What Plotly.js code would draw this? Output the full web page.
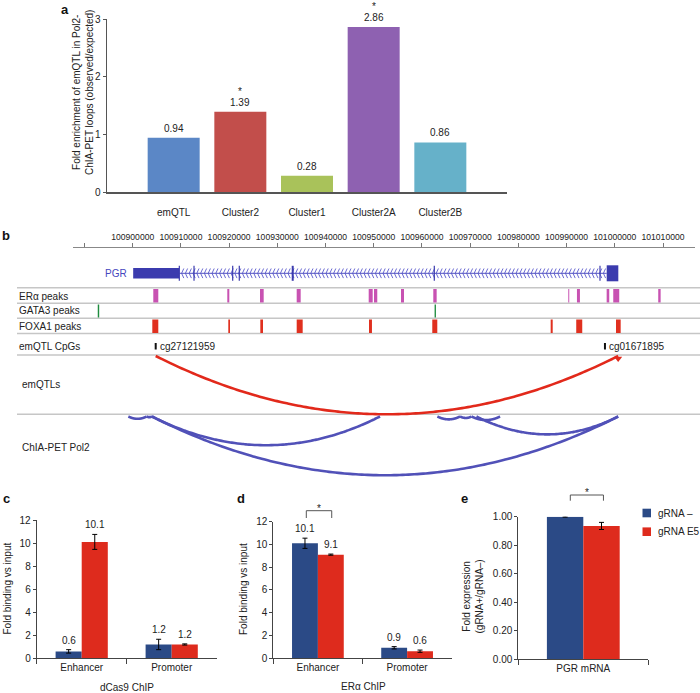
<!DOCTYPE html>
<html><head><meta charset="utf-8">
<script src="https://cdn.plot.ly/plotly-3.0.1.min.js"></script>
<style>html,body{margin:0;padding:0;background:#fff}#chart{width:700px;height:693px}</style>
</head><body><div id="chart"></div>
<script>
// ---------- Panel a ----------
const aCategories = ['emQTL', 'Cluster2', 'Cluster1', 'Cluster2A', 'Cluster2B'];
const aValues = [0.94, 1.39, 0.28, 2.86, 0.86];
const aSignificant = [false, true, false, true, false];
const aColors = ['#5B87C6', '#C24E4B', '#A9C25A', '#8E61B1', '#66B1C9'];
const aTicks = [0, 1, 2, 3];

// ---------- Panel b ----------
const genomeTicks = [100890000, 100900000, 100910000, 100920000, 100930000, 100940000, 100950000,
  100960000, 100970000, 100980000, 100990000, 101000000, 101010000];
const genomeTickText = ['', '100900000', '100910000', '100920000', '100930000', '100940000', '100950000',
  '100960000', '100970000', '100980000', '100990000', '101000000', '101010000'];
const geneName = 'PGR';
const geneUTR = [100900100, 100909670];
const geneIntron = [100909670, 100998320];
const geneLastExon = [100998320, 101000730];
const geneExonMarks = [100909670, 100912720, 100920740, 100922110, 100933190, 100962560, 100996930];
const eraPeaks = [[100904270, 100905310], [100919620, 100920040], [100926400, 100927170], [100934015, 100934845],
  [100948950, 100949780], [100950050, 100950730], [100955650, 100956270], [100962350, 100963050],
  [100990350, 100990555], [100992150, 100992770], [100998310, 100998850], [100999680, 101000920],
  [101009010, 101009510]];
const gata3Peaks = [[100892750, 100893050], [100962620, 100962900]];
const foxa1Peaks = [[100904065, 100905310], [100919830, 100920180], [100926470, 100927030], [100934015, 100935260],
  [100949010, 100949630], [100962140, 100963180], [100986700, 100987120], [100992000, 100993250],
  [101000245, 101001220]];
const cpgNames = ['cg27121959', 'cg01671895'];
const cpgPositions = [100904770, 100997960];
const emqtlLinks = [[100904770, 101000700]];
const chiaLinks = [[100899100, 100902900], [100902900, 100904000], [100904000, 100951300], [100904000, 101000700],
  [100963200, 100967900], [100967900, 100970300], [100970300, 100976200], [100971300, 101000700]];
const trackLabels = ['ERα peaks', 'GATA3 peaks', 'FOXA1 peaks', 'emQTL CpGs', 'emQTLs', 'ChIA-PET Pol2'];

// ---------- Panels c, d, e ----------
const chipCategories = ['Enhancer', 'Promoter'];
const cNeg = [0.6, 1.2], cNegErr = [0.15, 0.45];
const cE5 = [10.1, 1.2], cE5Err = [0.65, 0.05];
const dNeg = [10.1, 0.9], dNegErr = [0.45, 0.1];
const dE5 = [9.1, 0.6], dE5Err = [0.05, 0.1];
const eCategories = ['PGR mRNA'];
const eNeg = [1.00], eNegErr = [0.003];
const eE5 = [0.935], eE5Err = [0.025];
const seriesNames = ['gRNA –', 'gRNA E5'];
const chipTicks = [0, 2, 4, 6, 8, 10, 12];
const eTicks = [0, 0.2, 0.4, 0.6, 0.8, 1.0];

// ---------- layout helpers ----------
const W = 700, H = 693;
const px = x => x / W;
const py = y => 1 - y / H;
const FONT = 'Liberation Sans, Arial, Helvetica, sans-serif';
const TXT = '#222';
const BLUE = '#2B4A86', RED = '#DE2B1D';
const GENE = '#3B3BAE', GENE_LINE = '#5050C2', CHEV = '#6A6AD2';

const traces = [];
const shapes = [];
const annotations = [];
const ann = (o) => annotations.push(Object.assign({showarrow: false, xanchor: 'center', yanchor: 'middle',
  font: {family: FONT, size: 10, color: TXT}}, o));

// Panel a
traces.push({type: 'bar', x: aCategories, y: aValues, marker: {color: aColors}, width: 0.78,
  xaxis: 'x', yaxis: 'y', hoverinfo: 'skip'});
aValues.forEach((v, i) => {
  ann({xref: 'x', yref: 'y', x: i, y: v, yanchor: 'bottom', yshift: 2, text: v.toFixed(2)});
  if (aSignificant[i]) ann({xref: 'x', yref: 'y', x: i, y: v, yanchor: 'bottom', yshift: 13, text: '*'});
});

// Panel b geometry
const gRange = [100887616, 101016637];
const gDomain = [px(73), px(695)];
const bpPerPx = (gRange[1] - gRange[0]) / ((gDomain[1] - gDomain[0]) * W);
const rowY = {gene: 273.3, era: [289, 302.5], gata: [304.5, 317.5], foxa: [319.5, 333], cpg: [343, 349.5], cpgText: 346,
  emqtlBase: 356, chiaBase: 416.5};
const rect = (x0, x1, y0, y1, color) => shapes.push({type: 'rect', xref: 'x2', yref: 'y2', x0, x1, y0, y1,
  fillcolor: color, line: {width: 0}, layer: 'above'});
const line2 = (x0, x1, y0, y1, color, w) => shapes.push({type: 'line', xref: 'x2', yref: 'y2', x0, x1, y0, y1,
  line: {color, width: w}, layer: 'above'});

// separators
[287.7, 303.3, 318.3, 333.6, 355, 414.3].forEach(y => shapes.push({type: 'line', xref: 'paper', yref: 'paper',
  x0: px(17), x1: 1, y0: py(y), y1: py(y), line: {color: '#C6C6C6', width: 1.5}, layer: 'below'}));

// gene
line2(geneIntron[0], geneIntron[1], rowY.gene, rowY.gene, GENE_LINE, 1);
rect(geneUTR[0], geneUTR[1], rowY.gene - 5.3, rowY.gene + 5.3, GENE);
rect(geneLastExon[0], geneLastExon[1], rowY.gene - 8, rowY.gene + 8, GENE);
geneExonMarks.forEach((g, i) => line2(g, g, rowY.gene - 7.5, rowY.gene + 7.5, GENE, i === 4 ? 2 : 1.2));
{
  const step = 3.8 * bpPerPx, cw = 2.2 * bpPerPx, ch = 4.8;
  const cx = [], cy = [];
  for (let p = geneIntron[0] + step * 0.6; p < geneIntron[1] - cw; p += step) {
    cx.push(p + cw, p, p + cw, null);
    cy.push(rowY.gene - ch, rowY.gene, rowY.gene + ch, null);
  }
  traces.push({type: 'scatter', mode: 'lines', x: cx, y: cy, xaxis: 'x2', yaxis: 'y2',
    line: {color: CHEV, width: 1}, hoverinfo: 'skip', connectgaps: false});
}
ann({xref: 'x2', yref: 'y2', x: geneUTR[0], y: rowY.gene, xanchor: 'right', xshift: -4, text: geneName,
  font: {family: FONT, size: 10, color: '#4646BE'}});

// peaks
eraPeaks.forEach(p => rect(p[0], p[1], rowY.era[0], rowY.era[1], '#C852B2'));
gata3Peaks.forEach(p => rect(p[0], p[1], rowY.gata[0], rowY.gata[1], '#1E8C3E'));
foxa1Peaks.forEach(p => rect(p[0], p[1], rowY.foxa[0], rowY.foxa[1], '#E0301F'));
cpgPositions.forEach((g, i) => {
  line2(g, g, rowY.cpg[0], rowY.cpg[1], '#111', 2);
  ann({xref: 'x2', yref: 'y2', x: g, y: rowY.cpgText, xanchor: 'left', xshift: 2, text: cpgNames[i]});
});

// arcs
function arc(link, base, color) {
  const s = link[0], e = link[1], depth = 0.126 * (e - s) / bpPerPx;
  const xs = [], ys = [];
  for (let k = 0; k <= 80; k++) {
    const t = k / 80;
    xs.push(s + (e - s) * t);
    ys.push(base + depth * 4 * t * (1 - t));
  }
  traces.push({type: 'scatter', mode: 'lines', x: xs, y: ys, xaxis: 'x2', yaxis: 'y2',
    line: {color, width: 2.6, shape: 'spline'}, hoverinfo: 'skip'});
}
emqtlLinks.forEach(l => arc(l, rowY.emqtlBase, '#E2291B'));
chiaLinks.forEach(l => arc(l, rowY.chiaBase, '#5151B8'));
traces.push({type: 'scatter', mode: 'markers', x: emqtlLinks.map(l => l[1]), y: [rowY.emqtlBase + 2.5],
  xaxis: 'x2', yaxis: 'y2', marker: {symbol: 'triangle-down', size: 7, color: '#E2291B'}, hoverinfo: 'skip'});

// track labels
const labelY = [296, 311, 326, 346, 384.5, 447];
trackLabels.forEach((t, i) => ann({xref: 'paper', yref: 'paper', x: px(i >= 4 ? 20 : 17), y: py(labelY[i]),
  xanchor: 'left', yanchor: 'middle', text: t}));

// Panels c, d, e bars
const BW = 0.29;
function pair(cats, neg, negErr, pos, posErr, xa, ya, fmt, w) {
  const ww = w || BW;
  [[neg, negErr, BLUE, -ww], [pos, posErr, RED, 0]].forEach(([vals, errs, col, off]) => {
    traces.push({type: 'bar', x: cats, y: vals, offset: off, width: ww, marker: {color: col},
      error_y: {type: 'data', array: errs, color: '#000', thickness: 1, width: 2.5},
      xaxis: xa, yaxis: ya, hoverinfo: 'skip'});
    if (fmt) vals.forEach((v, i) => ann({xref: xa, yref: ya, x: i + off + ww / 2, y: v + errs[i],
      yanchor: 'bottom', yshift: 2, text: v.toFixed(fmt)}));
  });
}
pair(chipCategories, cNeg, cNegErr, cE5, cE5Err, 'x3', 'y3', 1);
pair(chipCategories, dNeg, dNegErr, dE5, dE5Err, 'x4', 'y4', 1);
pair(eCategories, eNeg, eNegErr, eE5, eE5Err, 'x5', 'y5', 0, 0.28);

// brackets
function bracket(xa, x0, x1, yTop, yLeg, yStar) {
  const L = {color: '#555', width: 1};
  shapes.push({type: 'line', xref: xa, yref: 'paper', x0, x1, y0: py(yTop), y1: py(yTop), line: L});
  shapes.push({type: 'line', xref: xa, yref: 'paper', x0, x1: x0, y0: py(yTop), y1: py(yLeg), line: L});
  shapes.push({type: 'line', xref: xa, yref: 'paper', x0: x1, x1, y0: py(yTop), y1: py(yLeg), line: L});
  ann({xref: xa, yref: 'paper', x: (x0 + x1) / 2, y: py(yStar), text: '*'});
}
bracket('x4', -0.13, 0.155, 510.7, 518, 508.5);
bracket('x5', -0.10, 0.155, 495, 500.7, 492.5);

// legend (panel e)
[BLUE, RED].forEach((c, i) => {
  const yc = 513 + i * 18.7;
  shapes.push({type: 'rect', xref: 'paper', yref: 'paper', x0: px(642.5), x1: px(651), y0: py(yc - 4.3), y1: py(yc + 4.3),
    fillcolor: c, line: {width: 0}});
  ann({xref: 'paper', yref: 'paper', x: px(655.5), y: py(yc), xanchor: 'left', text: seriesNames[i]});
});

// axis titles
ann({xref: 'paper', yref: 'paper', x: px(83), y: py(93), textangle: -90, text: 'Fold enrichment of emQTL in Pol2-<br>ChIA-PET loops (observed/expected)'});
ann({xref: 'paper', yref: 'paper', x: px(6.5), y: py(589), textangle: -90, text: 'Fold binding vs input'});
ann({xref: 'paper', yref: 'paper', x: px(243), y: py(589), textangle: -90, text: 'Fold binding vs input'});
ann({xref: 'paper', yref: 'paper', x: px(472.5), y: py(597), textangle: -90, text: 'Fold expression<br>(gRNA+/gRNA–)'});
ann({xref: 'paper', yref: 'paper', x: px(127), y: py(687), text: 'dCas9 ChIP'});
ann({xref: 'paper', yref: 'paper', x: px(363), y: py(686), text: 'ERα ChIP'});

// panel letters
[['a', 65, 9], ['b', 6, 236], ['c', 6, 498], ['d', 241, 498], ['e', 464.5, 498]].forEach(([t, x, y]) =>
  ann({xref: 'paper', yref: 'paper', x: px(x), y: py(y), text: '<b>' + t + '</b>', font: {family: FONT, size: 13, color: '#111'}}));

const tf = {family: FONT, size: 10, color: TXT};
const baseY = {showgrid: false, zeroline: false, showline: true, linecolor: '#444', linewidth: 1, ticks: 'outside',
  ticklen: 3, tickcolor: '#444', tickfont: tf, fixedrange: true};
const baseXcat = {type: 'category', showgrid: false, zeroline: false, showline: true, linecolor: '#444', linewidth: 1,
  ticks: 'outside', tickson: 'boundaries', ticklen: 5, tickcolor: '#444', tickfont: tf, fixedrange: true};

const layout = {
  width: W, height: H, autosize: false, margin: {l: 0, r: 0, t: 0, b: 0},
  paper_bgcolor: '#fff', plot_bgcolor: 'rgba(0,0,0,0)', showlegend: false, barmode: 'group',
  font: {family: FONT, size: 10, color: TXT},
  xaxis: {domain: [px(107), px(507)], anchor: 'y', type: 'category', range: [-1, 5], showgrid: false, zeroline: false,
    showline: true, linecolor: '#555', linewidth: 1.5, ticks: '', tickfont: tf, ticklabelstandoff: 10, fixedrange: true},
  yaxis: Object.assign({}, baseY, {domain: [py(192), py(19)], anchor: 'x', range: [0, 3], tickvals: aTicks,
    linecolor: '#555', linewidth: 1.5, ticklen: 3, tickcolor: '#555'}),
  xaxis2: {domain: gDomain, anchor: 'y2', side: 'top', range: gRange, tickvals: genomeTicks, ticktext: genomeTickText,
    ticks: 'outside', ticklen: 4, tickcolor: '#777', showline: true, linecolor: '#888', linewidth: 1,
    showgrid: false, zeroline: false, tickfont: {family: FONT, size: 8.6, color: TXT}, fixedrange: true},
  yaxis2: {domain: [py(480), py(248)], anchor: 'x2', range: [480, 248], visible: false, fixedrange: true},
  xaxis3: Object.assign({}, baseXcat, {domain: [px(36.7), px(216.7)], anchor: 'y3', range: [-0.5, 1.5]}),
  yaxis3: Object.assign({}, baseY, {domain: [py(658.3), py(520)], anchor: 'x3', range: [0, 12], tickvals: chipTicks}),
  xaxis4: Object.assign({}, baseXcat, {domain: [px(273.3), px(451.7)], anchor: 'y4', range: [-0.5, 1.5]}),
  yaxis4: Object.assign({}, baseY, {domain: [py(658), py(521.7)], anchor: 'x4', range: [0, 12], tickvals: chipTicks}),
  xaxis5: Object.assign({}, baseXcat, {domain: [px(518.3), px(648.3)], anchor: 'y5', range: [-0.5, 0.5]}),
  yaxis5: Object.assign({}, baseY, {domain: [py(659), py(516.7)], anchor: 'x5', range: [0, 1], tickvals: eTicks,
    tickformat: '.2f'}),
  shapes, annotations
};

Plotly.newPlot('chart', traces, layout, {displayModeBar: false, staticPlot: true});
</script>
</body></html>
